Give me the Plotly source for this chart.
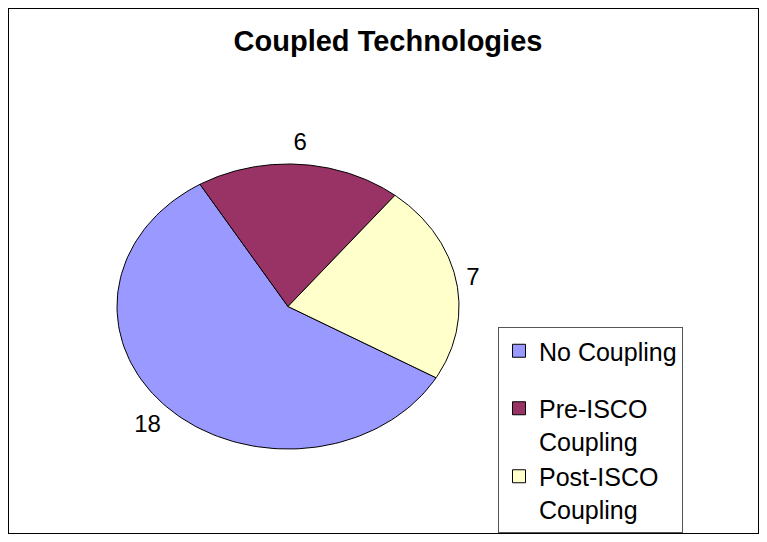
import numpy as np
import plotly.graph_objects as go

# data
categories = ["No Coupling", "Pre-ISCO Coupling", "Post-ISCO Coupling"]
legend_text = ["No Coupling", "Pre-ISCO<br>Coupling", "Post-ISCO<br>Coupling"]
counts = [18, 6, 7]
colors = ["#9999FF", "#993366", "#FFFFCC"]

# page body keeps its default 8px margin, so the figure is 16px smaller than the window
W, H = 751, 526
FONT = "Liberation Sans, Arial, sans-serif"

# the pie is an ellipse: unit circle in data coords, stretched by the axes
cx_px, cy_px = 280, 298.5
rx_px, ry_px = 171, 142.5
first_slice_angle = 120  # degrees, clockwise from 12 o'clock
label_r = 1.06


def wedge(a0, a1, n=120):
    t = np.radians(np.linspace(a0, a1, n))
    xs = np.concatenate([[0], np.sin(t), [0]])
    ys = np.concatenate([[0], np.cos(t), [0]])
    return xs, ys


def text_pos(a):
    s, c = np.sin(np.radians(a)), np.cos(np.radians(a))
    v = "top" if c > 0.5 else ("bottom" if c < -0.5 else "middle")
    h = "right" if s > 0.5 else ("left" if s < -0.5 else "center")
    return v + " " + h


fig = go.Figure()

total = sum(counts)
start = first_slice_angle
for val, col in zip(counts, colors):
    span = val / total * 360
    xs, ys = wedge(start, start + span)
    fig.add_trace(go.Scatter(x=xs, y=ys, mode="lines", fill="toself",
                             fillcolor=col, line=dict(color="black", width=1),
                             showlegend=False, hoverinfo="skip"))
    mid = np.radians(start + span / 2)
    fig.add_trace(go.Scatter(x=[label_r * np.sin(mid)], y=[label_r * np.cos(mid)],
                             mode="text", text=[str(val)],
                             textposition=text_pos(start + span / 2),
                             textfont=dict(family=FONT, size=24, color="black"),
                             cliponaxis=False, showlegend=False, hoverinfo="skip"))
    start += span

# legend entries with square swatches
for i, (name, col) in enumerate(zip(legend_text, colors)):
    fig.add_trace(go.Scatter(x=[None], y=[None], mode="markers", name=name,
                             legendgroup="a" if i == 0 else "b",
                             marker=dict(symbol="square", size=13, color=col,
                                         line=dict(color="black", width=1))))

fig.update_layout(
    width=W, height=H,
    margin=dict(l=0, r=0, t=0, b=0),
    paper_bgcolor="white", plot_bgcolor="white",
    title=dict(text="<b>Coupled Technologies</b>", x=380 / W, y=1 - 33 / H,
               xanchor="center", yanchor="middle",
               font=dict(family=FONT, size=29, color="black")),
    xaxis=dict(range=[-cx_px / rx_px, (W - cx_px) / rx_px], visible=False,
               fixedrange=True),
    yaxis=dict(range=[-(H - cy_px) / ry_px, cy_px / ry_px], visible=False,
               fixedrange=True),
    # legend must stay inside the paper, or plotly pushes the bottom margin
    legend=dict(x=490 / W, y=1 - 319 / H, xanchor="left", yanchor="top",
                font=dict(family=FONT, size=25, color="black"),
                bgcolor="white", bordercolor="#555555", borderwidth=1,
                traceorder="grouped", tracegroupgap=22, valign="top"),
    shapes=[dict(type="rect", xref="paper", yref="paper",
                 x0=0, x1=1, y0=0, y1=1,
                 line=dict(color="black", width=2))],
    showlegend=True,
)

fig.write_html("out.html")
